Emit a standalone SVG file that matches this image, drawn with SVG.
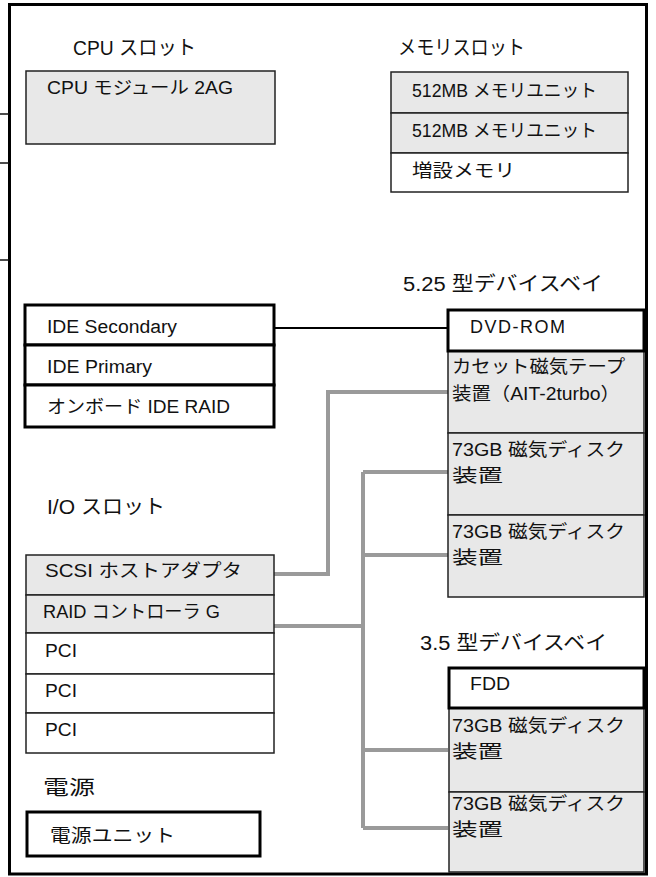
<svg xmlns="http://www.w3.org/2000/svg" width="656" height="877" viewBox="0 0 656 877">
<style>
text{font-family:"Liberation Sans","Noto Sans CJK JP",sans-serif;fill:#111}
.h{font-size:20px}
.t{font-size:18px}
.g{fill:#e8e8e8;stroke:#222;stroke-width:1.5}
.w{fill:#fff;stroke:#222;stroke-width:1.5}
.k{fill:#fff;stroke:#000;stroke-width:3}
.gc{fill:none;stroke:#9a9a9a;stroke-width:4}
</style>
<rect x="9.5" y="4.5" width="637" height="869.5" fill="#fff" stroke="#000" stroke-width="3"/>
<g id="stubs" stroke="#111" stroke-width="1.5">
<line x1="0" y1="114" x2="9" y2="114"/>
<line x1="0" y1="163" x2="9" y2="163"/>
<line x1="0" y1="260" x2="9" y2="260"/>
</g>
<g id="connectors">
<path d="M274 328H448" fill="none" stroke="#000" stroke-width="2"/>
<path class="gc" d="M274 574H328V392H448"/>
<path class="gc" d="M274 626H363M363 472V828M363 472H448M363 555H448M363 750H448M363 828H448"/>
</g>
<g id="cpu-slot"><text class="h" x="73" y="55" textLength="123" lengthAdjust="spacingAndGlyphs">CPU スロット</text></g>
<g id="cpu-module"><rect class="g" x="26" y="71" width="249" height="73"/><text class="t" x="47" y="94" textLength="186" lengthAdjust="spacingAndGlyphs">CPU モジュール 2AG</text></g>
<g id="mem-slot"><text class="h" x="398" y="55" textLength="127" lengthAdjust="spacingAndGlyphs">メモリスロット</text></g>
<g id="mem1"><rect class="g" x="391" y="72" width="237" height="41"/><text class="t" x="412" y="97" textLength="185" lengthAdjust="spacingAndGlyphs">512MB メモリユニット</text></g>
<g id="mem2"><rect class="g" x="391" y="113" width="237" height="40"/><text class="t" x="412" y="137" textLength="185" lengthAdjust="spacingAndGlyphs">512MB メモリユニット</text></g>
<g id="mem3"><rect class="w" x="391" y="153" width="237" height="39"/><text class="t" x="412" y="177" font-size="19" textLength="103" lengthAdjust="spacingAndGlyphs">増設メモリ</text></g>
<g id="bay525"><text class="h" x="403" y="291" textLength="200" lengthAdjust="spacingAndGlyphs">5.25 型デバイスベイ</text></g>
<g id="ide-sec"><rect class="k" x="25" y="305" width="249" height="40"/><text class="t" x="47" y="333" textLength="130" lengthAdjust="spacingAndGlyphs">IDE Secondary</text></g>
<g id="ide-pri"><rect class="k" x="25" y="345" width="249" height="40"/><text class="t" x="47" y="373" textLength="105" lengthAdjust="spacingAndGlyphs">IDE Primary</text></g>
<g id="ide-raid"><rect class="k" x="25" y="385" width="249" height="42"/><text class="t" x="47" y="413" textLength="183" lengthAdjust="spacingAndGlyphs">オンボード IDE RAID</text></g>
<g id="io-slot"><text class="h" x="47" y="514" textLength="118" lengthAdjust="spacingAndGlyphs">I/O スロット</text></g>
<g id="scsi"><rect class="g" x="26" y="555" width="248" height="40"/><text class="t" x="45" y="577" textLength="197" lengthAdjust="spacingAndGlyphs">SCSI ホストアダプタ</text></g>
<g id="raid"><rect class="g" x="26" y="595" width="248" height="38"/><text class="t" x="43" y="618" textLength="177" lengthAdjust="spacingAndGlyphs">RAID コントローラ G</text></g>
<g id="pci1"><rect class="w" x="26" y="633" width="248" height="41"/><text class="t" x="45" y="657" textLength="32" lengthAdjust="spacingAndGlyphs">PCI</text></g>
<g id="pci2"><rect class="w" x="26" y="674" width="248" height="39"/><text class="t" x="45" y="697" textLength="32" lengthAdjust="spacingAndGlyphs">PCI</text></g>
<g id="pci3"><rect class="w" x="26" y="713" width="248" height="40"/><text class="t" x="45" y="736" textLength="32" lengthAdjust="spacingAndGlyphs">PCI</text></g>
<g id="power"><text class="h" x="43" y="795" font-size="22" textLength="52" lengthAdjust="spacingAndGlyphs">電源</text></g>
<g id="psu"><rect class="k" x="27" y="812" width="233" height="44"/><text class="t" x="50" y="842" font-size="19" textLength="125" lengthAdjust="spacingAndGlyphs">電源ユニット</text></g>
<g id="cassette"><rect class="g" x="448" y="351" width="196" height="82"/><text class="t" x="452" y="373" textLength="173" lengthAdjust="spacingAndGlyphs">カセット磁気テープ</text><text class="t" x="452" y="400" textLength="168" lengthAdjust="spacingAndGlyphs">装置（AIT-2turbo）</text></g>
<g id="dvd"><rect class="k" x="448" y="310" width="196" height="41"/><text class="t" x="470" y="333" textLength="95">DVD-ROM</text></g>
<g id="hdd1"><rect class="g" x="448" y="433" width="196" height="82"/><text class="t" x="452" y="456" textLength="173" lengthAdjust="spacingAndGlyphs">73GB 磁気ディスク</text><text class="t" x="452" y="482" font-size="21" textLength="51" lengthAdjust="spacingAndGlyphs">装置</text></g>
<g id="hdd2"><rect class="g" x="448" y="515" width="196" height="82"/><text class="t" x="452" y="538" textLength="173" lengthAdjust="spacingAndGlyphs">73GB 磁気ディスク</text><text class="t" x="452" y="564" font-size="21" textLength="51" lengthAdjust="spacingAndGlyphs">装置</text></g>
<g id="bay35"><text class="h" x="420" y="650" textLength="187" lengthAdjust="spacingAndGlyphs">3.5 型デバイスベイ</text></g>
<g id="hdd3"><rect class="g" x="449" y="708" width="195" height="84"/><text class="t" x="452" y="732" textLength="173" lengthAdjust="spacingAndGlyphs">73GB 磁気ディスク</text><text class="t" x="452" y="758" font-size="21" textLength="51" lengthAdjust="spacingAndGlyphs">装置</text></g>
<g id="hdd4"><rect class="g" x="449" y="792" width="195" height="80"/><text class="t" x="452" y="810" textLength="173" lengthAdjust="spacingAndGlyphs">73GB 磁気ディスク</text><text class="t" x="452" y="836" font-size="21" textLength="51" lengthAdjust="spacingAndGlyphs">装置</text></g>
<g id="fdd"><rect class="k" x="449" y="668" width="195" height="40"/><text class="t" x="470" y="690" textLength="40" lengthAdjust="spacingAndGlyphs">FDD</text></g>
</svg>
